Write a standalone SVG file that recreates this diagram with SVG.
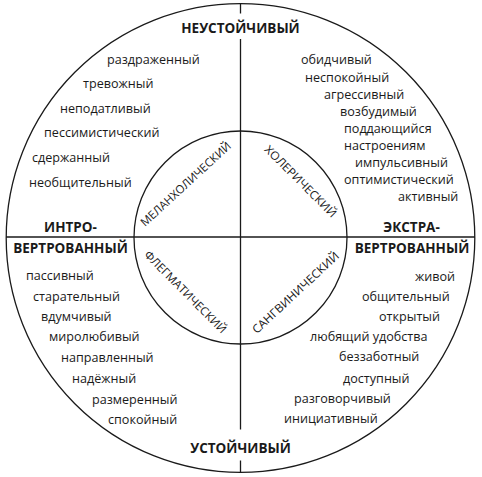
<svg xmlns="http://www.w3.org/2000/svg" width="482" height="477" viewBox="0 0 482 477">
<style>
.ln{fill:none;stroke:#1a1a1a;stroke-width:1.3}
.t{font-family:"Open Sans","Noto Sans","DejaVu Sans",sans-serif;font-size:12.6px;fill:#1a1a1a}
.b{font-family:"Open Sans","Noto Sans","DejaVu Sans",sans-serif;font-size:13.5px;font-weight:bold;fill:#1a1a1a;text-anchor:middle}
.c{font-family:"Open Sans","Noto Sans","DejaVu Sans",sans-serif;font-size:11.5px;fill:#1a1a1a;text-anchor:middle}
</style>
<rect width="482" height="477" fill="#ffffff"/>
<g id="outer-circle"><circle class="ln" cx="240.5" cy="238" r="234.3"/></g>
<g id="inner-circle"><circle class="ln" cx="240.5" cy="237.5" r="106.5"/></g>
<g id="connectors">
<line class="ln" x1="240.5" y1="3.5" x2="240.5" y2="13.5"/>
<line class="ln" x1="240.5" y1="39" x2="240.5" y2="429.5"/>
<line class="ln" x1="240.5" y1="460.5" x2="240.5" y2="472.5"/>
<line class="ln" x1="6" y1="237" x2="475" y2="237"/>
</g>
<g id="axis-labels">
<text class="b" x="240.5" y="33.3">НЕУСТОЙЧИВЫЙ</text>
<text class="b" x="240.5" y="453">УСТОЙЧИВЫЙ</text>
<text class="b" x="70.5" y="232">ИНТРО-</text>
<text class="b" x="70.5" y="253.3">ВЕРТРОВАННЫЙ</text>
<text class="b" x="411.5" y="232">ЭКСТРА-</text>
<text class="b" x="412" y="253.3">ВЕРТРОВАННЫЙ</text>
</g>
<g id="melancholic">
<text class="c" transform="translate(188.5 187) rotate(-42.6)" textLength="118" lengthAdjust="spacingAndGlyphs">МЕЛАНХОЛИЧЕСКИЙ</text>
<text class="t" x="107" y="64">раздраженный</text>
<text class="t" x="83" y="88.3">тревожный</text>
<text class="t" x="60" y="112.7">неподатливый</text>
<text class="t" x="44" y="137.3">пессимистический</text>
<text class="t" x="32" y="162.3">сдержанный</text>
<text class="t" x="29" y="186.7">необщительный</text>
</g>
<g id="choleric">
<text class="c" transform="translate(297.8 184.2) rotate(45)" textLength="96" lengthAdjust="spacingAndGlyphs">ХОЛЕРИЧЕСКИЙ</text>
<text class="t" x="301" y="64.3">обидчивый</text>
<text class="t" x="305" y="81.5">неспокойный</text>
<text class="t" x="324" y="98.5">агрессивный</text>
<text class="t" x="340" y="115.5">возбудимый</text>
<text class="t" x="344" y="132.5">поддающийся</text>
<text class="t" x="344" y="149.5">настроениям</text>
<text class="t" x="355" y="166.5">импульсивный</text>
<text class="t" x="344" y="183.5">оптимистический</text>
<text class="t" x="398" y="200.8">активный</text>
</g>
<g id="phlegmatic">
<text class="c" transform="translate(182.5 294.8) rotate(45.2)" textLength="111" lengthAdjust="spacingAndGlyphs">ФЛЕГМАТИЧЕСКИЙ</text>
<text class="t" x="26" y="280.3">пассивный</text>
<text class="t" x="33" y="301">старательный</text>
<text class="t" x="41" y="321">вдумчивый</text>
<text class="t" x="49" y="341">миролюбивый</text>
<text class="t" x="61" y="362">направленный</text>
<text class="t" x="72" y="382.7">надёжный</text>
<text class="t" x="92" y="403.7">размеренный</text>
<text class="t" x="108" y="423.7">спокойный</text>
</g>
<g id="sanguine">
<text class="c" transform="translate(298.3 295.7) rotate(-42.9)" textLength="113.6" lengthAdjust="spacingAndGlyphs">САНГВИНИЧЕСКИЙ</text>
<text class="t" x="415" y="281">живой</text>
<text class="t" x="362" y="301.3">общительный</text>
<text class="t" x="379" y="321">открытый</text>
<text class="t" x="310" y="341">любящий удобства</text>
<text class="t" x="339" y="361.3">беззаботный</text>
<text class="t" x="343" y="382.7">доступный</text>
<text class="t" x="294" y="403">разговорчивый</text>
<text class="t" x="284" y="422.7">инициативный</text>
</g>
</svg>
